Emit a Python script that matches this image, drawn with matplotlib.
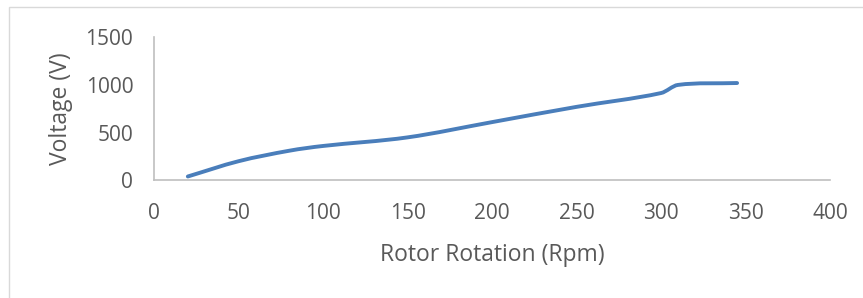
import matplotlib.pyplot as plt
import numpy as np
from matplotlib.path import Path
from matplotlib.patches import PathPatch, Rectangle

# values
rpm = [20, 50, 80, 100, 150, 200, 250, 300, 310, 345]
voltage = [40, 200, 310, 360, 450, 610, 770, 915, 1000, 1020]

x_ticks = [0, 50, 100, 150, 200, 250, 300, 350, 400]
y_ticks = [0, 500, 1000, 1500]

BLUE = '#4A7EBB'
TEXT = '#595959'
AXIS = '#BFBFBF'


def smooth_path(xs, ys):
    # smoothed line drawn as cubic Bezier segments through each point
    xs = np.asarray(xs, float)
    ys = np.asarray(ys, float)
    n = len(xs)
    slopes = np.empty(n)
    slopes[0] = (ys[1] - ys[0]) / (xs[1] - xs[0])
    slopes[-1] = (ys[-1] - ys[-2]) / (xs[-1] - xs[-2])
    for i in range(1, n - 1):
        slopes[i] = (ys[i + 1] - ys[i - 1]) / (xs[i + 1] - xs[i - 1])
    verts = [(xs[0], ys[0])]
    codes = [Path.MOVETO]
    for i in range(n - 1):
        d = (xs[i + 1] - xs[i]) / 3
        verts += [(xs[i] + d, ys[i] + d * slopes[i]),
                  (xs[i + 1] - d, ys[i + 1] - d * slopes[i + 1]),
                  (xs[i + 1], ys[i + 1])]
        codes += [Path.CURVE4] * 3
    return Path(verts, codes)


plt.rcParams['font.family'] = ['Open Sans', 'DejaVu Sans']

fig = plt.figure(figsize=(8.63, 2.98), dpi=100)
ax = fig.add_axes([0.1785, 0.395, 0.7833, 0.48])

ax.add_patch(PathPatch(smooth_path(rpm, voltage), facecolor='none',
                       edgecolor=BLUE, linewidth=2.8, capstyle='round'))

ax.set_xlim(0, 400)
ax.set_ylim(0, 1500)
ax.set_xticks(x_ticks)
ax.set_yticks(y_ticks)
ax.tick_params(length=0, labelsize=15, colors=TEXT)
ax.tick_params(axis='x', pad=16)
ax.tick_params(axis='y', pad=15)

for side in ['top', 'right']:
    ax.spines[side].set_visible(False)
for side in ['left', 'bottom']:
    ax.spines[side].set_color(AXIS)
    ax.spines[side].set_linewidth(1.2)

ax.set_xlabel('Rotor Rotation (Rpm)', fontsize=16.5, color=TEXT, labelpad=14)
ax.set_ylabel('Voltage (V)', fontsize=16.5, color=TEXT, labelpad=9)

fig.patches.append(Rectangle((9 / 863, -0.1), 1.0, 1.1 - 7 / 298,
                             transform=fig.transFigure, fill=False,
                             edgecolor='#D9D9D9', linewidth=1.0))

fig.savefig('out.png', dpi=100)
